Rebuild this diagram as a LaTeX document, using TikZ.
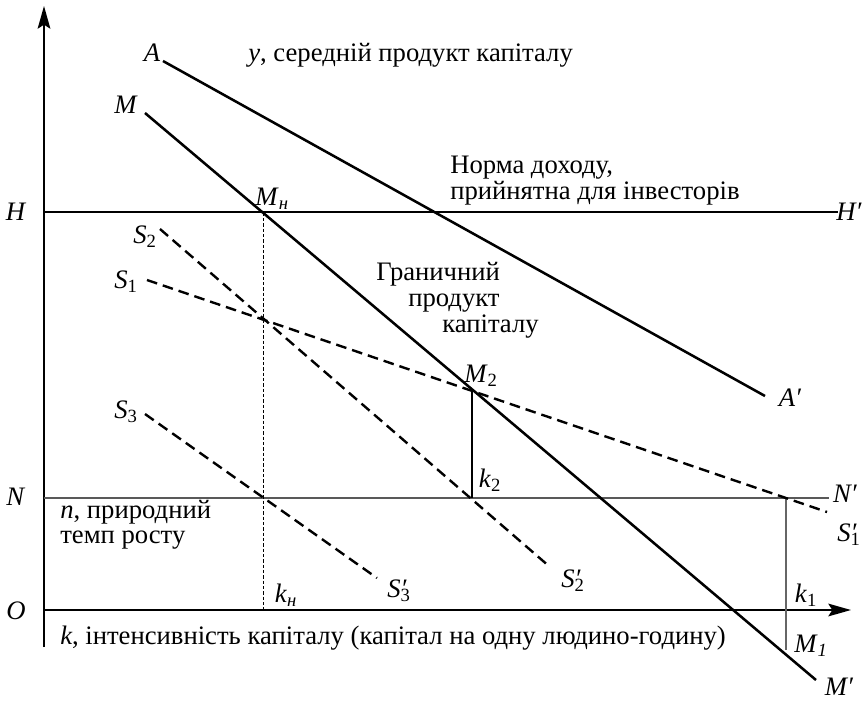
\documentclass[tikz,border=0pt]{standalone}
\usepackage{fontspec}
\setmainfont{Liberation Serif}[Ligatures=TeX]
\usetikzlibrary{arrows.meta}
\newcommand\lab[2]{\textit{#1}\textsubscript{#2}}
\newcommand\labp[2]{\textit{#1}\rlap{\textsubscript{#2}}\textit{′}}
\begin{document}
\rmfamily
\begin{tikzpicture}[x=0.75pt,y=-0.75pt,
  font=\rmfamily\fontsize{20}{24}\selectfont,
  axisline/.style={line width=1.5pt,-{Stealth[length=17pt,width=9.5pt,inset=3pt]}},
  mainline/.style={line width=1.9pt},
  sline/.style={line width=1.8pt,dash pattern=on 8pt off 4.5pt},
  hline/.style={line width=1.1pt},
  nline/.style={line width=1.5pt,draw=black!65},
  vthin/.style={line width=0.8pt},
  vgray/.style={line width=1.4pt,draw=black!60},
  vdot/.style={line width=0.7pt,dash pattern=on 2.5pt off 1.5pt},
  lbl/.style={inner sep=0pt,anchor=center},
  txt/.style={inner sep=0pt,anchor=base west}]
\useasboundingbox (0,0) rectangle (864,701);
% coordinates
\coordinate (yb) at (44,647);
\coordinate (yt) at (44,6);
\coordinate (xl) at (44,610);
\coordinate (xr) at (851,610);
\coordinate (A1) at (163,61);
\coordinate (A2) at (765,396);
\coordinate (M1) at (145,113);
\coordinate (M2e) at (816,680);
\coordinate (H1) at (44,212);
\coordinate (H2) at (838,212);
\coordinate (N1) at (44,498);
\coordinate (N2) at (829,498);
\coordinate (Mh) at (263,212.5);
\coordinate (kh) at (263,610);
\coordinate (Mtwo) at (472,390);
\coordinate (ktwo) at (472,498);
\coordinate (kone) at (786,498);
\coordinate (kone2) at (786,650);
\coordinate (S1a) at (147,280);
\coordinate (S1b) at (827,512);
\coordinate (S2a) at (160,229);
\coordinate (S2b) at (550,567);
\coordinate (S3a) at (145,414);
\coordinate (S3b) at (377,578);
% lines
\draw[axisline] (yb) -- (yt);
\draw[axisline] (xl) -- (xr);
\draw[hline] (H1) -- (H2);
\draw[nline] (N1) -- (N2);
\draw[vdot] (Mh) -- (kh);
\draw[vthin] (Mtwo) -- (ktwo);
\draw[vgray] (kone) -- (kone2);
\draw[sline] (S1a) -- (S1b);
\draw[sline] (S2a) -- (S2b);
\draw[sline] (S3a) -- (S3b);
\draw[mainline] (A1) -- (A2);
\draw[mainline] (M1) -- (M2e);
% labels
\node[lbl] (lA) at (152,53) {\textit{A}};
\node[lbl] (lAp) at (790,398) {\textit{A′}};
\node[lbl] (lM) at (126,105) {\textit{M}};
\node[lbl] (lMp) at (839,687) {\textit{M′}};
\node[lbl] (lH) at (16,212) {\textit{H}};
\node[lbl] (lHp) at (849,212) {\textit{H′}};
\node[lbl] (lN) at (16,497) {\textit{N}};
\node[lbl] (lNp) at (845,494) {\textit{N′}};
\node[lbl] (lO) at (16,611) {\textit{O}};
\node[lbl] (lMh) at (272,199) {\lab{M}{\textit{н}}};
\node[lbl] (lM2) at (481,376) {\lab{M}{2}};
\node[lbl] (lM1) at (811,646) {\lab{M}{\textit{1}}};
\node[lbl] (lS1) at (126,282) {\lab{S}{1}};
\node[lbl] (lS2) at (145,237) {\lab{S}{2}};
\node[lbl] (lS3) at (126,412) {\lab{S}{3}};
\node[lbl] (lS1p) at (847,535) {\labp{S}{1}};
\node[lbl] (lS2p) at (571,581) {\labp{S}{2}};
\node[lbl] (lS3p) at (397,591) {\labp{S}{3}};
\node[lbl] (lk2) at (490,480) {\lab{k}{2}};
\node[lbl] (lk1) at (806,595) {\lab{k}{1}};
\node[lbl] (lkh) at (286,595) {\lab{k}{\textit{н}}};
% texts
\node[txt] (ty) at (248,61) {\textit{y}, середній продукт капіталу};
\node[txt] (tn1) at (450,173) {Норма доходу,};
\node[txt] (tn2) at (450,199) {прийнятна для інвесторів};
\node[txt] (tg1) at (376,280) {Граничний};
\node[txt] (tg2) at (408,306) {продукт};
\node[txt] (tg3) at (442,332) {капіталу};
\node[txt] (tr1) at (60,518) {\textit{n}, природний};
\node[txt] (tr2) at (60,543) {темп росту};
\node[txt] (tk) at (60,644) {\textit{k}, інтенсивність капіталу (капітал на одну людино-годину)};
\end{tikzpicture}
\end{document}
